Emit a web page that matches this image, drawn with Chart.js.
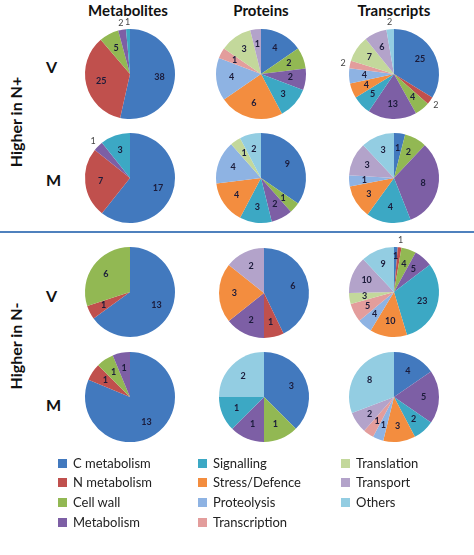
<!DOCTYPE html>
<html>
<head>
<meta charset="utf-8">
<script src="https://cdn.jsdelivr.net/npm/chart.js@4"></script>
<style>
  body { margin: 0; background: #fff; font-family: Lato, "Liberation Sans", sans-serif; }
  #page { position: relative; width: 474px; height: 555px; overflow: hidden; }
  .pie { position: absolute; width: 130px; height: 130px; }
  .head { position: absolute; top: 1px; font-weight: bold; font-size: 15px; color: #111; transform: translateX(-50%); }
  .row { position: absolute; font-weight: bold; font-size: 16px; color: #111; }
  .side { position: absolute; font-weight: bold; font-size: 16px; color: #111; white-space: nowrap;
          transform: translate(-50%, -50%) rotate(-90deg); }
  #sep { position: absolute; left: 0; top: 231px; width: 474px; height: 2px; background: #4F81BD; }
  .leg { position: absolute; font-size: 13px; color: #222; white-space: nowrap; }
  .leg span { display: inline-block; width: 9px; height: 9px; margin-right: 6px; vertical-align: 0px; }
</style>
</head>
<body>
<div id="page">
  <div class="head" style="left:128px">Metabolites</div>
  <div class="head" style="left:261px">Proteins</div>
  <div class="head" style="left:394px">Transcripts</div>
  <div class="side" style="left:15px; top:122px">Higher in N+</div>
  <div class="side" style="left:15px; top:346px">Higher in N-</div>
  <div class="row" style="left:46px; top:57px">V</div>
  <div class="row" style="left:46px; top:170px">M</div>
  <div class="row" style="left:46px; top:286px">V</div>
  <div class="row" style="left:46px; top:395px">M</div>
  <div id="sep"></div>
</div>
<script>
// categories, in Excel series order (clockwise from 12 o'clock)
const categories = ['C metabolism', 'N metabolism', 'Cell wall', 'Metabolism', 'Signalling',
  'Stress/Defence', 'Proteolysis', 'Transcription', 'Translation', 'Transport', 'Others'];
const colors = ['#4279BE', '#C0504D', '#92B853', '#7D5FA5', '#3CA8C4',
  '#F38D3F', '#8EB3E3', '#E39D9C', '#C3D89B', '#B3A3CA', '#93CDE2'];

// Higher in N+
const metabolitesVplus  = [38, 25, 5, 2, 1, 0, 0, 0, 0, 0, 0];
const proteinsVplus     = [4, 0, 2, 2, 3, 6, 4, 1, 3, 1, 0];
const transcriptsVplus  = [25, 2, 4, 13, 5, 4, 4, 2, 7, 6, 2];
const metabolitesMplus  = [17, 7, 0, 1, 3, 0, 0, 0, 0, 0, 0];
const proteinsMplus     = [9, 0, 1, 2, 3, 4, 4, 0, 1, 0, 2];
const transcriptsMplus  = [1, 0, 2, 8, 4, 3, 1, 0, 0, 3, 3];
// Higher in N-
const metabolitesVminus = [13, 1, 6, 0, 0, 0, 0, 0, 0, 0, 0];
const proteinsVminus    = [6, 1, 0, 2, 0, 3, 0, 0, 0, 2, 0];
const transcriptsVminus = [1, 1, 4, 5, 23, 10, 4, 5, 3, 10, 9];
const metabolitesMminus = [13, 1, 1, 1, 0, 0, 0, 0, 0, 0, 0];
const proteinsMminus    = [3, 0, 1, 1, 1, 0, 0, 0, 0, 0, 2];
const transcriptsMminus = [4, 0, 0, 5, 2, 3, 1, 1, 0, 2, 8];

const panels = [
  [metabolitesVplus, 130, 74], [proteinsVplus, 261, 74], [transcriptsVplus, 394, 74],
  [metabolitesMplus, 130, 178], [proteinsMplus, 261, 178], [transcriptsMplus, 394, 178],
  [metabolitesVminus, 130, 292], [proteinsVminus, 264, 293], [transcriptsVminus, 394, 292],
  [metabolitesMminus, 130, 397], [proteinsMminus, 264, 397], [transcriptsMminus, 394, 397]
];

// draws the count on each slice, small slices get it outside
const sliceLabels = {
  id: 'sliceLabels',
  afterDatasetsDraw(chart) {
    const c = chart.ctx;
    const vals = chart.data.datasets[0].data;
    let lastOut = null;
    chart.getDatasetMeta(0).data.forEach((arc, i) => {
      if (!vals[i]) return;
      const p = arc.getProps(['x', 'y', 'startAngle', 'endAngle', 'outerRadius']);
      const mid = (p.startAngle + p.endAngle) / 2;
      let small = (p.endAngle - p.startAngle) < 0.24;
      // two tiny neighbours: keep the first one inside
      if (small && (p.endAngle - p.startAngle) < 0.1 && i === 0) small = false;
      const r = small ? p.outerRadius + 7 : p.outerRadius * (i === 0 && !small && (p.endAngle - p.startAngle) < 0.24 ? 0.8 : 0.66);
      c.save();
      c.font = small ? '9px Lato' : 'bold 9px Lato';
      c.fillStyle = small ? '#444' : '#1b1b3a';
      c.textAlign = 'center';
      c.textBaseline = 'middle';
      c.fillText(vals[i], p.x + Math.cos(mid) * r, p.y + Math.sin(mid) * r);
      c.restore();
    });
  }
};

const page = document.getElementById('page');
panels.forEach(([values, cx, cy]) => {
  const box = document.createElement('div');
  box.className = 'pie';
  box.style.left = (cx - 65) + 'px';
  box.style.top = (cy - 65) + 'px';
  const cv = document.createElement('canvas');
  box.appendChild(cv);
  page.appendChild(box);
  new Chart(cv.getContext('2d'), {
    type: 'pie',
    data: {
      labels: categories,
      datasets: [{ data: values, backgroundColor: colors, borderWidth: 0 }]
    },
    options: {
      responsive: true,
      maintainAspectRatio: false,
      animation: false,
      layout: { padding: 20 },
      plugins: { legend: { display: false }, tooltip: { enabled: false } }
    },
    plugins: [sliceLabels]
  });
});

// legend, three columns
const legCols = [[0, 4, 58], [4, 8, 198], [8, 11, 341]];
const legRows = [455, 474, 494, 514];
legCols.forEach(([from, to, x]) => {
  for (let i = from; i < to; i++) {
    const d = document.createElement('div');
    d.className = 'leg';
    d.style.left = x + 'px';
    d.style.top = legRows[i - from] + 'px';
    d.innerHTML = '<span style="background:' + colors[i] + '"></span>' + categories[i];
    page.appendChild(d);
  }
});
</script>
</body>
</html>
